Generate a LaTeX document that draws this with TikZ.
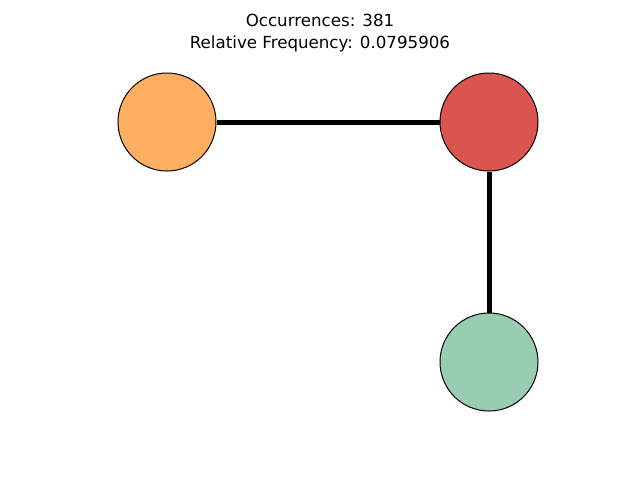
\documentclass[tikz,border=0pt]{standalone}
\usepackage{fontspec}
\setmainfont{DejaVu Sans}
\usetikzlibrary{positioning}
\definecolor{morange}{HTML}{FDAE61}
\definecolor{mred}{HTML}{DA5550}
\definecolor{mgreen}{HTML}{98CDB1}
\tikzset{vertex/.style = {circle, draw=black, line width=0.75pt, minimum size=73.5pt, inner sep=0pt},
         edge/.style = {line width=3.75pt}}

\begin{document}
\begin{tikzpicture}[x=0.75pt, y=-0.75pt]
      \useasboundingbox (0, 0) rectangle (640, 480);
      \node [align=center, font=\fontsize{12.5}{16.5}\selectfont] (title) at (320, 33)
            {Occurrences: 381\\Relative Frequency: 0.0795906};

      \node [vertex, fill=morange] (a) at (167, 122) {};
      \node [vertex, fill=mred] (b) at (489, 122) {};
      \node [vertex, fill=mgreen] (c) at (489, 362) {};

      \draw [edge] (a) -- (b);
      \draw [edge] (b) -- (c);
    \end{tikzpicture}
\end{document}
